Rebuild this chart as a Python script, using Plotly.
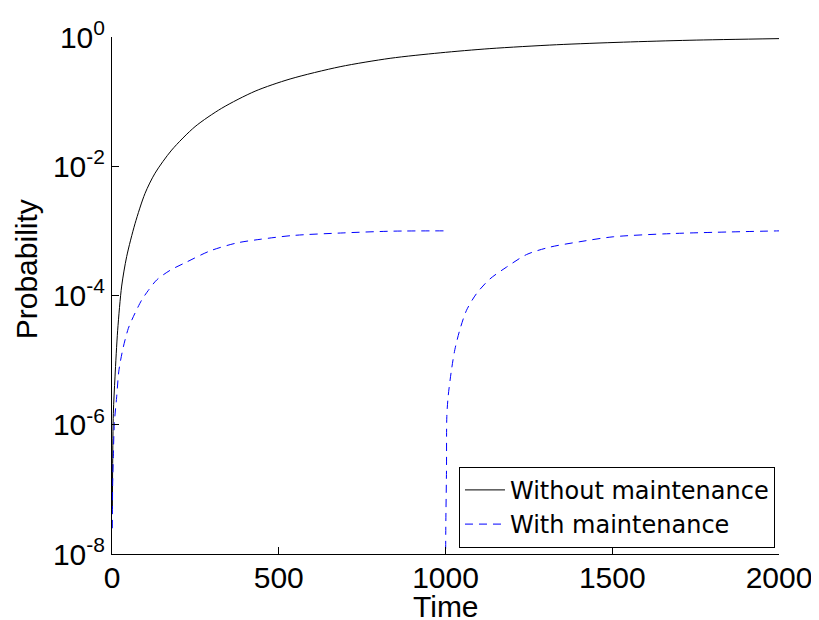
import plotly.graph_objects as go

# Without maintenance (black solid)
time_without = [1, 2, 4, 9, 17, 29, 44, 69, 99, 129, 179, 249, 329, 429, 534, 684,
                834, 984, 1133, 1333, 1533, 1733, 2000]
prob_without = [5e-8, 2.5e-7, 1.5e-6, 5.5e-6, 2.9e-5, 1.4e-4, 4.0e-4, 1.29e-3, 3.8e-3,
                7.8e-3, 1.78e-2, 4.1e-2, 7.9e-2, 0.145, 0.224, 0.347, 0.468, 0.569,
                0.661, 0.759, 0.832, 0.891, 0.944]

# With maintenance (blue dashed), first cycle
time_with_1 = [1, 2, 4, 7, 14, 21, 34, 49, 64, 89, 109, 134, 174, 224, 294, 374,
               444, 544, 693, 843, 1000]
prob_with_1 = [2.5e-8, 1.2e-7, 3.2e-7, 1.05e-6, 2.7e-6, 7.1e-6, 1.6e-5, 3.1e-5,
               4.7e-5, 8.5e-5, 1.2e-4, 1.74e-4, 2.45e-4, 3.3e-4, 4.9e-4, 6.5e-4,
               7.4e-4, 8.5e-4, 9.3e-4, 9.9e-4, 1.0e-3]

# With maintenance, second cycle (after maintenance at t=1000)
time_with_2 = [1000.5, 1001, 1003, 1004, 1008, 1018, 1028, 1043, 1063, 1093, 1133,
               1183, 1243, 1313, 1403, 1503, 1683, 2000]
prob_with_2 = [1.2e-8, 3e-8, 2e-7, 1.35e-6, 2.75e-6, 7.1e-6, 1.45e-5, 2.95e-5,
               5.9e-5, 1.07e-4, 1.8e-4, 2.75e-4, 4.3e-4, 5.6e-4, 6.8e-4, 8.1e-4,
               9.1e-4, 1.0e-3]

x_ticks = [0, 500, 1000, 1500, 2000]
y_tickvals = [1e-8, 1e-6, 1e-4, 1e-2, 1e0]
y_ticktext = ["10<sup>-8</sup>", "10<sup>-6</sup>", "10<sup>-4</sup>",
              "10<sup>-2</sup>", "10<sup>0</sup>"]

FONT = "Liberation Sans, Arial, sans-serif"
LEGEND_FONT = "DejaVu Sans, sans-serif"

fig = go.Figure()
fig.add_trace(go.Scatter(
    x=time_without, y=prob_without, mode="lines", name="Without maintenance",
    line=dict(color="black", width=1, shape="spline", smoothing=0.8)))
fig.add_trace(go.Scatter(
    x=time_with_1 + [None] + time_with_2,
    y=prob_with_1 + [None] + prob_with_2,
    mode="lines", name="With maintenance", connectgaps=False,
    line=dict(color="#0000ff", width=1, dash="8px,6px", shape="spline", smoothing=0.8)))

# page body has an 8px margin, so the figure is sized/offset to compensate
fig.update_layout(
    width=811, height=612,
    margin=dict(l=104, r=40, t=29, b=66, autoexpand=False),
    paper_bgcolor="white", plot_bgcolor="white",
    font=dict(family=FONT, size=30, color="black"),
    showlegend=True,
    legend=dict(x=0.994, xanchor="right", y=0.012, yanchor="bottom",
                bgcolor="white", bordercolor="black", borderwidth=1,
                font=dict(family=LEGEND_FONT, size=24, color="black"),
                itemwidth=40, tracegroupgap=0),
    annotations=[
        dict(text="Time", xref="paper", yref="paper", x=0.5, y=-0.1025,
             xanchor="center", yanchor="middle", showarrow=False,
             font=dict(family=FONT, size=30, color="black")),
        dict(text="Probability", xref="paper", yref="paper", x=-0.128, y=0.55,
             xanchor="center", yanchor="middle", showarrow=False, textangle=-90,
             font=dict(family=FONT, size=30, color="black")),
    ],
)
fig.update_xaxes(
    range=[0, 2000], tickvals=x_ticks, ticktext=[str(v) for v in x_ticks],
    automargin=False,
    showgrid=False, zeroline=False, showline=True, linecolor="black", linewidth=1,
    ticks="inside", ticklen=7, tickcolor="black", tickwidth=1,
    tickfont=dict(family=FONT, size=30), ticklabelstandoff=-3)
fig.update_yaxes(
    type="log", range=[-8, 0], tickvals=y_tickvals, ticktext=y_ticktext,
    automargin=False,
    showgrid=False, zeroline=False, showline=True, linecolor="black", linewidth=1,
    ticks="inside", ticklen=7, tickcolor="black", tickwidth=1,
    tickfont=dict(family=FONT, size=30), ticklabelstandoff=0)

fig.write_html("out.html")
